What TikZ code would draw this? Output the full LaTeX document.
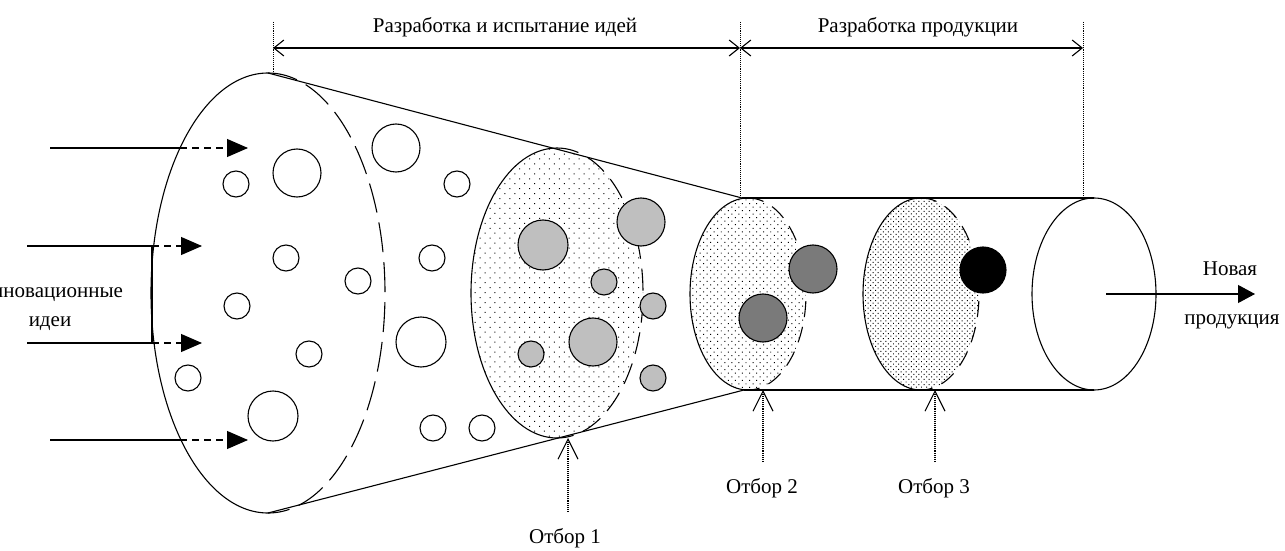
\documentclass[tikz,border=0pt]{standalone}
\usepackage{fontspec}
\setmainfont{Liberation Serif}
\usepackage{tikz}
\usetikzlibrary{positioning,arrows.meta,shapes.geometric,patterns.meta}

\begin{document}
\begin{tikzpicture}[
    x=1pt, y=1pt,
    line width=1.1pt,
    lbl/.style={font=\fontsize{21}{29}\selectfont, inner sep=1pt, align=center},
    stage/.style={ellipse, inner sep=0pt, outer sep=0pt},
    idea/.style={circle, draw, fill=white, inner sep=0pt, outer sep=0pt, minimum size=#1},
    idea/.default=26pt,
    tested/.style={idea=#1, fill=black!25},
    picked/.style={idea=#1, fill=black!52},
    best/.style={idea=#1, fill=black},
    hidden/.style={dash pattern=on #1 off 10pt},
    inarrow/.style={dash pattern=on 7pt off 5pt, -{Triangle[length=21pt,width=18pt]}},
    selarrow/.style={densely dotted, -{Straight Barb[length=20pt,width=20pt]}},
    dimline/.style={{Straight Barb[length=10pt,width=16pt]}-{Straight Barb[length=10pt,width=16pt]}},
    tick/.style={densely dotted, line width=0.9pt}
]
\useasboundingbox (0,0) rectangle (1285,550);

% funnel of ideas
\node[stage, minimum width=234pt, minimum height=440pt] (funnel) at (268,257) {};
\coordinate (jtop) at (742,352);
\coordinate (jbot) at (744,160);
\draw (funnel.north) -- (jtop);
\draw (funnel.south) -- (jbot);
\draw (funnel.north) arc[start angle=90, end angle=270, x radius=117, y radius=220];
\draw[hidden=30pt] (funnel.north) arc[start angle=90, end angle=-90, x radius=117, y radius=220];

\foreach \x/\y/\d [count=\i] in {297/377/48, 236/366/26, 396/402/48, 457/366/26, 286/292/26,
    358/269/26, 432/292/26, 237/244/26, 309/196/26, 188/172/26, 273/134/50, 421/208/50,
    433/122/26, 482/122/26}
  \node[idea=\d pt] (w\i) at (\x,\y) {};

% first selection
\node[stage, minimum width=172pt, minimum height=290pt,
      pattern={Dots[distance=7pt,radius=0.7pt,angle=45]}] (sel1) at (557,257) {};
\draw (sel1.north) arc[start angle=90, end angle=270, x radius=86, y radius=145];
\draw[hidden=22pt] (sel1.north) arc[start angle=90, end angle=-90, x radius=86, y radius=145];

\foreach \x/\y/\d [count=\i] in {543/305/50, 641/328/48, 604/268/26, 653/244/26, 593/208/48,
    531/196/26, 653/172/26}
  \node[tested=\d pt] (g\i) at (\x,\y) {};

% product pipe
\node[stage, minimum width=124pt, minimum height=192pt] (product) at (1094,256) {};
\draw (jtop) -- (product.north);
\draw (jbot) -- (product.south);

\node[stage, minimum width=116pt, minimum height=192pt,
      pattern={Dots[distance=5pt,radius=0.7pt,angle=45]}] (sel2) at (748,256) {};
\draw (sel2.north) arc[start angle=90, end angle=270, x radius=58, y radius=96];
\draw[hidden=16pt] (sel2.north) arc[start angle=90, end angle=-90, x radius=58, y radius=96];
\node[picked=48pt] (p1) at (813,281) {};
\node[picked=48pt] (p2) at (763,232) {};

\node[stage, minimum width=116pt, minimum height=192pt,
      pattern={Dots[distance=3.6pt,radius=0.7pt,angle=45]}] (sel3) at (921,256) {};
\draw (sel3.north) arc[start angle=90, end angle=270, x radius=58, y radius=96];
\draw[hidden=16pt] (sel3.north) arc[start angle=90, end angle=-90, x radius=58, y radius=96];
\node[best=46pt] (b1) at (983,280) {};

\draw (product) ellipse[x radius=62, y radius=96];

% incoming ideas
\foreach \y/\s/\e/\t [count=\i] in {402/50/180/248, 304/27/152/202, 207/27/152/202, 110/50/180/248} {
  \coordinate (src\i) at (\s,\y);
  \coordinate (rim\i) at (\e,\y);
  \coordinate (in\i) at (\t,\y);
  \draw (src\i) -- (rim\i);
  \draw[inarrow] (rim\i) -- (in\i);
}
\draw (rim2) -- (rim3);
\node[lbl] (newideas) at (50,243) {Инновационные\\идеи};

% selections
\node[lbl] (cut1) at (565,12) {Отбор 1};
\node[lbl] (cut2) at (762,62) {Отбор 2};
\node[lbl] (cut3) at (934,62) {Отбор 3};
\coordinate (c1) at (568,38);
\coordinate (c2) at (763,88);
\coordinate (c3) at (935,88);
\draw[selarrow] (c1) -- (c1 |- sel1.south);
\draw[selarrow] (c2) -- (c2 |- sel2.south);
\draw[selarrow] (c3) -- (c3 |- sel3.south);

% output
\coordinate (out) at ([xshift=12pt]product.center);
\coordinate (outtip) at (1255,256);
\draw[-{Triangle[length=17pt,width=18pt]}] (out) -- (outtip);
\node[lbl] (newprod) at (1230,281) {Новая};
\node[lbl] (newprod2) at (1232,228) {продукция};

% phases
\coordinate (d0) at (273,502);
\coordinate (d1) at (740,502);
\coordinate (d2) at (1083,502);
\draw[dimline] (d0) -- (d1);
\draw[dimline] (d1) -- (d2);
\draw[tick] ([yshift=26pt]d0) -- (d0 |- funnel.north);
\draw[tick] ([yshift=26pt]d1) -- (d1 |- jtop);
\draw[tick] ([yshift=26pt]d2) -- (d2 |- product.north);
\node[lbl] (phase1) at (505,523) {Разработка и испытание идей};
\node[lbl] (phase2) at (918,523) {Разработка продукции};

\end{tikzpicture}
\end{document}
